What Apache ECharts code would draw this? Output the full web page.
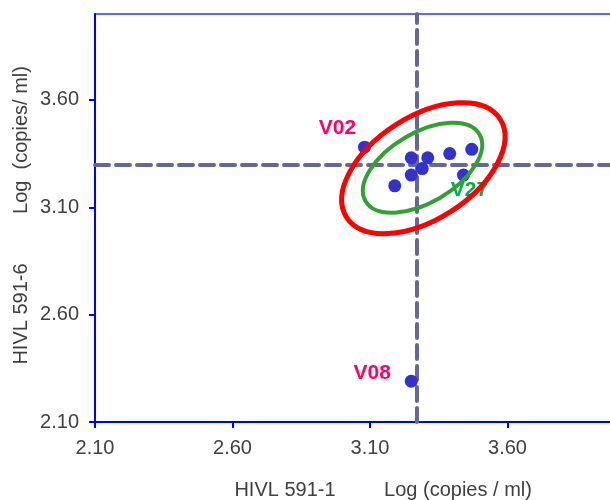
<!DOCTYPE html>
<html><head><meta charset="utf-8">
<script src="https://cdn.jsdelivr.net/npm/echarts@6/dist/echarts.min.js"></script>
<style>html,body{margin:0;padding:0;background:#fff}#c{width:610px;height:500px}</style>
</head><body><div id="c"></div>
<script>
// data
const xValues = [3.08, 3.25, 3.31, 3.39, 3.47, 3.29, 3.25, 3.19, 3.44, 3.25];
const yValues = [3.38, 3.33, 3.33, 3.35, 3.37, 3.28, 3.25, 3.20, 3.25, 2.29];
const pointLabels = ['V02', '', '', '', '', '', '', '', 'V27', 'V08'];
const xTicks = [2.1, 2.6, 3.1, 3.6];
const yTicks = [2.1, 2.6, 3.1, 3.6];
const refX = 3.27;
const refY = 3.30;
// ellipse: centre x, centre y, major semi-axis (dx, dy), minor semi-axis (dx, dy), in data units
const redEllipse = [3.294, 3.282, 0.279, 0.229, 0.101, -0.201];
const greenEllipse = [3.291, 3.284, 0.207, 0.156, 0.064, -0.140];

const FONT = 'Liberation Sans, Arial, sans-serif';
const labelStyles = {
  'V02': { color: '#ff0066', offset: [-27, -19] },
  'V08': { color: '#ff0066', offset: [-39, -8] },
  'V27': { color: '#00b050', offset: [6, 15] }
};

const scatterData = xValues.map((x, i) => {
  const item = { value: [x, yValues[i]] };
  const name = pointLabels[i];
  if (name) {
    const s = labelStyles[name];
    item.label = {
      show: true, formatter: name, position: 'inside', offset: s.offset,
      color: s.color, opacity: 1, fontWeight: 'bold', fontSize: 21, fontFamily: FONT
    };
  }
  return item;
});

function ellipseSeries(params, color, width) {
  return {
    type: 'custom', coordinateSystem: 'cartesian2d', z: 4, silent: true,
    data: [params],
    encode: { x: 0, y: 1 },
    renderItem: function (p, api) {
      const c = api.coord([api.value(0), api.value(1)]);
      const m = api.coord([api.value(0) + api.value(2), api.value(1) + api.value(3)]);
      const n = api.coord([api.value(0) + api.value(4), api.value(1) + api.value(5)]);
      const rx = Math.hypot(m[0] - c[0], m[1] - c[1]);
      const ry = Math.hypot(n[0] - c[0], n[1] - c[1]);
      const rot = Math.atan2(-(m[1] - c[1]), m[0] - c[0]);
      return {
        type: 'ellipse', x: c[0], y: c[1], rotation: rot,
        shape: { cx: 0, cy: 0, rx: rx, ry: ry },
        style: { fill: 'none', stroke: color, lineWidth: width }
      };
    }
  };
}

const axisCommon = (ticks) => ({
  type: 'value', min: 2.1, max: 4.0,
  axisLine: { show: true, lineStyle: { color: '#0000ff', width: 2 } },
  axisTick: { show: true, customValues: ticks, length: 6, lineStyle: { color: '#0000ff', width: 2 } },
  axisLabel: { customValues: ticks, formatter: v => v.toFixed(2), color: '#404040', fontSize: 20, fontFamily: FONT, margin: 16 },
  splitLine: { show: false }
});

const chart = echarts.init(document.getElementById('c'), null, { renderer: 'canvas' });
chart.setOption({
  animation: false,
  backgroundColor: '#fff',
  grid: { left: 95, top: 14, width: 522.5, height: 408, show: true, borderColor: '#6464ff', borderWidth: 2, outerBoundsMode: 'none', containLabel: false },
  xAxis: axisCommon(xTicks),
  yAxis: axisCommon(yTicks),
  series: [
    {
      type: 'scatter', z: 3, symbol: 'circle', symbolSize: 13,
      itemStyle: { color: '#3333cc', opacity: 1 },
      data: scatterData,
      markLine: {
        silent: true, symbol: 'none', z: 2,
        label: { show: false },
        lineStyle: { type: [14, 7], color: '#66669a', width: 4, cap: 'round', opacity: 1 },
        data: [{ xAxis: refX }, { yAxis: refY }]
      }
    },
    ellipseSeries(redEllipse, '#ff0000', 5),
    ellipseSeries(greenEllipse, '#33a033', 4)
  ],
  graphic: [
    { type: 'text', x: 285, y: 490, style: { text: 'HIVL 591-1', fill: '#404040', font: '20px ' + FONT, textAlign: 'center', textVerticalAlign: 'middle' } },
    { type: 'text', x: 458, y: 490, style: { text: 'Log (copies / ml)', fill: '#404040', font: '20px ' + FONT, textAlign: 'center', textVerticalAlign: 'middle' } },
    { type: 'text', x: 21, y: 140, rotation: Math.PI / 2, style: { text: 'Log  (copies/ ml)', fill: '#404040', font: '20px ' + FONT, textAlign: 'center', textVerticalAlign: 'middle' } },
    { type: 'text', x: 21, y: 314, rotation: Math.PI / 2, style: { text: 'HIVL 591-6', fill: '#404040', font: '20px ' + FONT, textAlign: 'center', textVerticalAlign: 'middle' } }
  ]
});
</script></body></html>
